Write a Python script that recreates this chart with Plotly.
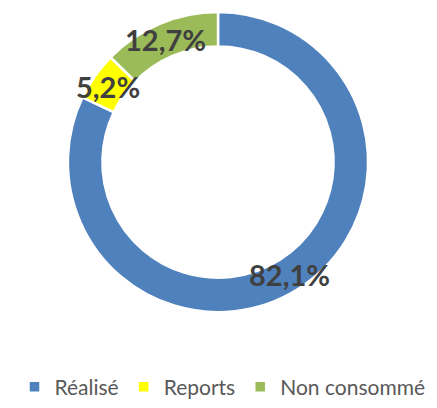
import math
import plotly.graph_objects as go

labels = ["Réalisé", "Reports", "Non consommé"]
values = [82.1, 5.2, 12.7]
colors = ["#4F81BD", "#FFFF00", "#9BBB59"]

# page body has an 8px margin, so the figure is 8px smaller than the window
OFF = 8
W, H = 437 - OFF, 408 - OFF
dom_x = [(66 - OFF) / W, (370 - OFF) / W]
dom_y = [(H - (316 - OFF)) / H, (H - (12 - OFF)) / H]
hole = 0.77

fig = go.Figure(go.Pie(
    labels=labels, values=values, sort=False, direction="clockwise", rotation=0,
    hole=hole, marker=dict(colors=colors, line=dict(color="white", width=2.5)),
    textinfo="none", hoverinfo="label+percent",
    domain=dict(x=dom_x, y=dom_y),
))

cx = (dom_x[0] + dom_x[1]) / 2
cy = (dom_y[0] + dom_y[1]) / 2
r_out = min((dom_x[1] - dom_x[0]) * W, (dom_y[1] - dom_y[0]) * H) / 2
r_mid = r_out * (1 + hole) / 2
total = sum(values)
cum = 0
annotations = []
for v in values:
    mid = (cum + v / 2) / total * 2 * math.pi
    cum += v
    ax = cx + r_mid * math.sin(mid) / W
    ay = cy + r_mid * math.cos(mid) / H
    annotations.append(dict(
        x=ax, y=ay, xref="paper", yref="paper", showarrow=False,
        text=f"{v:.1f}%".replace(".", ","),
        font=dict(family="Lato", size=29, color="#404040", weight="bold"),
        xanchor="center", yanchor="middle",
    ))

fig.update_layout(
    width=W, height=H, margin=dict(l=0, r=0, t=0, b=0),
    paper_bgcolor="white", plot_bgcolor="white",
    annotations=annotations,
    showlegend=True,
    legend=dict(orientation="h", x=0.5, xanchor="center", y=(408 - 392) / H, yanchor="middle",
                font=dict(family="Lato", size=21, color="#595959"),
                itemwidth=30, tracegroupgap=0),
)
fig.write_html("out.html")
